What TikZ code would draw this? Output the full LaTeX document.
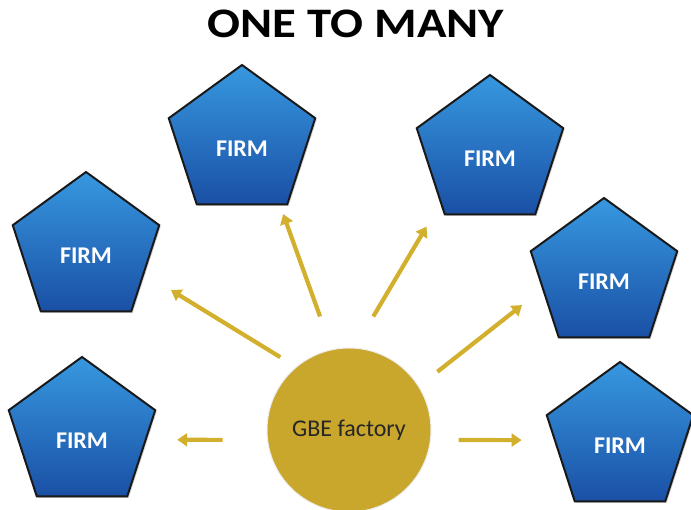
\documentclass[tikz,border=0pt]{standalone}
\usepackage{fontspec}
\setmainfont{Carlito}
\usetikzlibrary{shapes.geometric,arrows.meta,shadows}

\definecolor{firmtop}{RGB}{55,152,224}
\definecolor{firmbottom}{RGB}{26,80,165}
\definecolor{gbegold}{RGB}{201,166,44}
\definecolor{arrowgold}{RGB}{210,175,45}

\begin{document}
\begin{tikzpicture}[
    x=1pt, y=1pt,
    firm/.style={
      regular polygon,
      regular polygon sides=5,
      minimum size=154pt,
      draw=black!90,
      line width=2pt,
      top color=firmtop,
      bottom color=firmbottom,
      drop shadow={shadow xshift=1.5pt,shadow yshift=-1.5pt,opacity=0.35},
      text=white,
      font=\bfseries\fontsize{24}{24}\selectfont,
      text height=30pt,
      text depth=0pt
    },
    factory/.style={
      circle,
      minimum size=164pt,
      fill=gbegold,
      draw=gray!15,
      line width=1pt,
      text=black!85,
      font=\fontsize{24}{24}\selectfont
    },
    flow/.style={
      -{Triangle[length=10pt,width=13pt]},
      draw=arrowgold,
      line width=4.2pt
    }
  ]
  \useasboundingbox (0,0) rectangle (691,510);

  \node[font=\bfseries\fontsize{42}{42}\selectfont, xscale=1.16] (title) at (356,486.5) {ONE TO MANY};

  % the factory and its firms
  \node[factory] (gbe) at (349,80) {GBE factory};
  \node[firm] (firmLL) at (82,76)   {FIRM};
  \node[firm] (firmL)  at (86,261)  {FIRM};
  \node[firm] (firmUL) at (242,368) {FIRM};
  \node[firm] (firmUR) at (490,358) {FIRM};
  \node[firm] (firmR)  at (604,235) {FIRM};
  \node[firm] (firmLR) at (620,71)  {FIRM};

  \draw[flow, shorten <=44.6pt, shorten >=30.5pt] (gbe.187)   -- (firmLL.-5.4);
  \draw[flow, shorten <=18.4pt, shorten >=31.1pt] (gbe.130.6) -- (firmL.-23.2);
  \draw[flow, shorten <=34.9pt, shorten >=9.3pt]  (gbe.102)   -- (firmUL.-59.4);
  \draw[flow, shorten <=36.3pt, shorten >=26.8pt] (gbe.86.9)  -- (firmUR.-134.6);
  \draw[flow, shorten <=23.5pt, shorten >=25.5pt] (gbe.32)    -- (firmR.193.2);
  \draw[flow, shorten <=27.7pt, shorten >=32.2pt] (gbe.-7.7)  -- (firmLR.181.8);
\end{tikzpicture}
\end{document}
